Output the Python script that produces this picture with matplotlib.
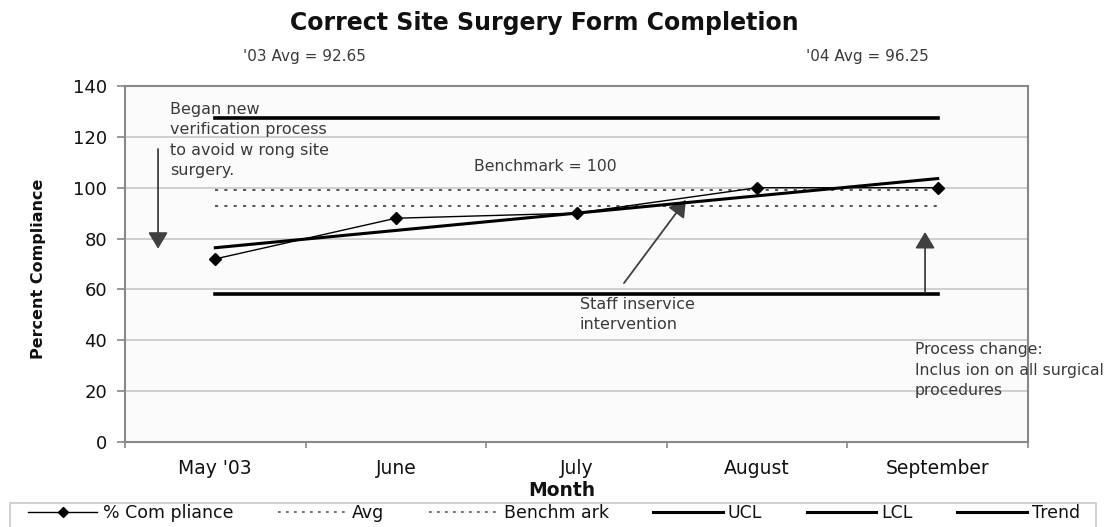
import matplotlib
matplotlib.use("Agg")
import matplotlib.pyplot as plt
from matplotlib.lines import Line2D
from matplotlib.patches import Rectangle

# the reference uses widely tracked Arial; DejaVu Sans is a wider face and gets closer
plt.rcParams['font.family'] = ['DejaVu Sans']

# data
months = ["May '03", "June", "July", "August", "September"]
compliance = [72, 88, 90, 100, 100]
avg_value = 92.65
benchmark_value = 99.2
ucl_value = 127.6
lcl_value = 58.2
trend_ends = [76.4, 103.6]

W, H = 1107, 527
fig = plt.figure(figsize=(W / 100, H / 100), dpi=100)
ax = fig.add_axes([125 / W, 1 - 442 / H, 903 / W, 356 / H])
ax.set_facecolor('#fbfbfb')

x = list(range(len(months)))
first, last = x[0], x[-1]
dot_color = '#555555'

ax.plot([first, last], [avg_value, avg_value], color=dot_color, lw=1.4,
        ls=(0, (1.6, 3.2)), zorder=3)
ax.plot([first, last], [benchmark_value, benchmark_value], color=dot_color, lw=1.4,
        ls=(0, (1.6, 3.2)), zorder=3)
ax.plot([first, last], [ucl_value, ucl_value], color='black', lw=2.6, zorder=3)
ax.plot([first, last], [lcl_value, lcl_value], color='black', lw=2.6, zorder=3)
ax.plot([first, last], trend_ends, color='black', lw=2.2, zorder=4)
ax.plot(x, compliance, color='black', lw=1.0, marker='D', ms=6, zorder=5)

ax.set_xlim(-0.5, len(months) - 0.5)
ax.set_ylim(0, 140)
ax.set_yticks(range(0, 141, 20))
ax.set_xticks(x)
ax.set_xticklabels(months)
ax.set_xticks([i - 0.5 for i in range(len(months) + 1)], minor=True)
ax.tick_params(axis='x', which='major', length=0, pad=12, labelsize=13.5, labelcolor='#111111')
ax.tick_params(axis='x', which='minor', length=4, color='#888888', width=1.2)
ax.tick_params(axis='y', length=6, color='#888888', width=1.2, pad=7,
               labelsize=13, labelcolor='#111111')
ax.grid(axis='y', color='#c4c4c4', lw=1.1)
ax.set_axisbelow(True)
for s in ax.spines.values():
    s.set_color('#888888')
    s.set_linewidth(1.5)

# annotations
txt_color = '#3a3a3a'
began = ["Began new", "verification process", "to avoid w rong site", "surgery."]
for i, line in enumerate(began):
    ax.text(-0.251, 130.6 - i * 7.9, line, fontsize=11.5, color=txt_color, va='center', ha='left')
ax.text(1.432, 108.5, "Benchmark = 100", fontsize=11.3, color=txt_color, va='center', ha='left')
staff = ["Staff inservice", "intervention"]
for i, line in enumerate(staff):
    ax.text(2.019, 53.9 - i * 7.5, line, fontsize=11.5, color=txt_color, va='center', ha='left')
proc = ["Process change:", "Inclus ion on all surgical", "procedures"]
for i, line in enumerate(proc):
    ax.text(3.874, 36.2 - i * 7.9, line, fontsize=11.3, color=txt_color, va='center', ha='left',
            clip_on=False)

arrow_kw = dict(arrowstyle='-|>,head_length=1.0,head_width=0.6', color='#404040',
                lw=1.3, shrinkA=0, shrinkB=0, mutation_scale=10)
ax.annotate('', xy=(-0.317, 76), xytext=(-0.317, 115.2), arrowprops=arrow_kw)
ax.annotate('', xy=(2.606, 95.2), xytext=(2.263, 62.5), arrowprops=arrow_kw)
ax.annotate('', xy=(3.93, 82.6), xytext=(3.93, 59), arrowprops=arrow_kw)

# titles and axis labels
fig.text(544 / W, 1 - 23 / H, "Correct Site Surgery Form Completion", fontsize=17,
         fontweight='bold', ha='center', va='center', color='#111111')
fig.text(243 / W, 1 - 57 / H, "'03 Avg = 92.65", fontsize=11, color=txt_color,
         ha='left', va='center')
fig.text(806 / W, 1 - 57 / H, "'04 Avg = 96.25", fontsize=11, color=txt_color,
         ha='left', va='center')
fig.text(39 / W, 1 - 269 / H, "Percent Compliance", fontsize=11.5, fontweight='bold',
         rotation=90, ha='center', va='center', color='#111111')
fig.text(562 / W, 1 - 490 / H, "Month", fontsize=13.5, fontweight='bold',
         ha='center', va='center', color='#111111')

# legend along the bottom: box drawn separately so the entries can sit inset
fig.patches.append(Rectangle((10 / W, -0.02), 1086 / W, 1 - 503 / H + 0.02,
                             transform=fig.transFigure, facecolor='white',
                             edgecolor='#c8c8c8', lw=1.2, zorder=0))
handles = [
    Line2D([], [], color='black', lw=1.0, marker='D', ms=5),
    Line2D([], [], color=dot_color, lw=1.2, ls=(0, (1.6, 3.2))),
    Line2D([], [], color=dot_color, lw=1.2, ls=(0, (1.6, 3.2))),
    Line2D([], [], color='black', lw=2.2),
    Line2D([], [], color='black', lw=2.2),
    Line2D([], [], color='black', lw=2.2),
]
labels = ["% Com pliance", "Avg", "Benchm ark", "UCL", "LCL", "Trend"]
leg = fig.legend(handles, labels, loc='center left', ncol=6, mode='expand',
                 bbox_to_anchor=(28 / W, 1 - 513 / H, 1052 / W, 0),
                 fontsize=12.5, handlelength=4.0, handletextpad=0.3,
                 frameon=False, borderpad=0, borderaxespad=0)
for t in leg.get_texts():
    t.set_color('#111111')

fig.savefig('out.png', dpi=100)
